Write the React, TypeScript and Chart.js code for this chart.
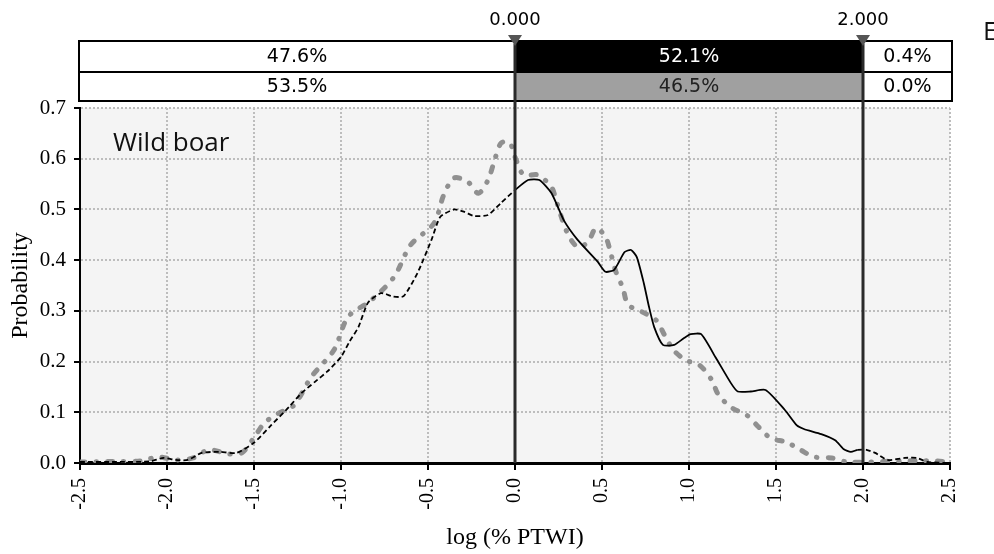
import React, { useEffect, useRef } from "react";
import { Chart, registerables } from "chart.js";

Chart.register(...registerables);

// ---- data ----
const blackX = [
  -2.5, -2.3, -2.1, -2.02, -1.95, -1.88, -1.8, -1.7, -1.6, -1.5, -1.4, -1.3, -1.23, -1.15, -1.08,
  -1.0, -0.95, -0.9, -0.845, -0.77, -0.7, -0.64, -0.56, -0.48, -0.43, -0.35, -0.29, -0.235, -0.155,
  -0.08, 0.0, 0.075, 0.14, 0.21, 0.28, 0.36, 0.475, 0.52, 0.57, 0.63, 0.667, 0.7, 0.74, 0.77, 0.8,
  0.85, 0.915, 0.97, 1.01, 1.07, 1.155, 1.24, 1.28, 1.355, 1.44, 1.55, 1.62, 1.66, 1.76, 1.84, 1.89,
  1.93, 1.97, 2.02, 2.07, 2.14, 2.24, 2.31, 2.37, 2.5,
];
const blackY = [
  0.002, 0.002, 0.003, 0.01, 0.006, 0.006, 0.02, 0.022, 0.02, 0.04, 0.075, 0.11, 0.137, 0.16, 0.18,
  0.209, 0.24, 0.268, 0.316, 0.335, 0.328, 0.329, 0.375, 0.44, 0.485, 0.5, 0.495, 0.487, 0.489,
  0.513, 0.538, 0.558, 0.558, 0.532, 0.479, 0.44, 0.397, 0.377, 0.381, 0.416, 0.42, 0.406, 0.355,
  0.308, 0.268, 0.233, 0.233, 0.246, 0.254, 0.254, 0.207, 0.158, 0.141, 0.141, 0.144, 0.105, 0.074,
  0.067, 0.057, 0.045, 0.027, 0.022, 0.026, 0.026, 0.02, 0.006, 0.01, 0.01, 0.002, 0.0,
];
const grayX = [
  -2.5, -2.3, -2.15, -2.05, -1.95, -1.85, -1.76, -1.65, -1.57, -1.5, -1.44, -1.36, -1.27, -1.17,
  -1.04, -0.96, -0.83, -0.695, -0.6, -0.465, -0.41, -0.35, -0.27, -0.21, -0.155, -0.12, -0.08,
  -0.03, 0.006, 0.05, 0.13, 0.21, 0.235, 0.3, 0.36, 0.42, 0.465, 0.52, 0.55, 0.58, 0.62, 0.65, 0.73,
  0.81, 0.86, 0.91, 0.98, 1.06, 1.13, 1.17, 1.25, 1.33, 1.4, 1.47, 1.56, 1.64, 1.72, 1.82, 1.91,
  2.03, 2.22, 2.41, 2.5,
];
const grayY = [
  0.002, 0.003, 0.004, 0.012, 0.006, 0.01, 0.026, 0.018, 0.02, 0.05, 0.079, 0.098, 0.114, 0.17,
  0.223, 0.288, 0.32, 0.367, 0.43, 0.473, 0.528, 0.562, 0.554, 0.532, 0.558, 0.594, 0.631, 0.631,
  0.598, 0.568, 0.568, 0.544, 0.519, 0.454, 0.426, 0.436, 0.463, 0.446, 0.414, 0.377, 0.345, 0.312,
  0.298, 0.282, 0.252, 0.223, 0.203, 0.193, 0.164, 0.134, 0.108, 0.095, 0.071, 0.049, 0.041, 0.026,
  0.012, 0.01, 0.002, 0.002, 0.004, 0.004, 0.002,
];
const thresholds = [0, 2];
const thresholdLabels = ["0.000", "2.000"];
const row1Labels = ["47.6%", "52.1%", "0.4%"];
const row2Labels = ["53.5%", "46.5%", "0.0%"];
const panelTitle = "Wild boar";
const cornerText = "E";
const xTitle = "log (% PTWI)";
const yTitle = "Probability";

const SERIF = '"Liberation Serif", "Times New Roman", serif';
const SANS = '"DejaVu Sans", Verdana, sans-serif';
const OPEN = '"Open Sans", sans-serif';

const overlay = {
  id: "overlay",
  beforeDraw(chart: any) {
    const { ctx, chartArea: a } = chart;
    ctx.save();
    ctx.fillStyle = "#f4f4f4";
    ctx.fillRect(a.left, a.top, a.right - a.left, a.bottom - a.top);
    ctx.restore();
  },
  afterDraw(chart: any) {
    const { ctx, chartArea: a } = chart;
    const xs = chart.scales.x;
    const px = thresholds.map((t) => xs.getPixelForValue(t));
    const left = a.left - 1;
    const right = a.right + 2;
    const top1 = a.top - 67;
    const mid = a.top - 36;
    const bot = a.top - 7;
    const cols = [left, px[0], px[1], right];

    ctx.save();
    ctx.fillStyle = "#ffffff";
    ctx.fillRect(left, top1, right - left, bot - top1);
    ctx.fillStyle = "#000000";
    ctx.fillRect(px[0], top1, px[1] - px[0], mid - top1);
    ctx.fillStyle = "#a0a0a0";
    ctx.fillRect(px[0], mid, px[1] - px[0], bot - mid);
    ctx.strokeStyle = "#000";
    ctx.lineWidth = 2;
    ctx.strokeRect(left, top1, right - left, bot - top1);
    ctx.beginPath();
    ctx.moveTo(left, mid);
    ctx.lineTo(right, mid);
    ctx.stroke();
    ctx.font = `19px ${SANS}`;
    ctx.textAlign = "center";
    ctx.textBaseline = "middle";
    for (let i = 0; i < 3; i++) {
      const cx = (cols[i] + cols[i + 1]) / 2;
      ctx.fillStyle = i === 1 ? "#ffffff" : "#000000";
      ctx.fillText(row1Labels[i], cx, (top1 + mid) / 2 + 1);
      ctx.fillStyle = i === 1 ? "#222222" : "#000000";
      ctx.fillText(row2Labels[i], cx, (mid + bot) / 2 + 1);
    }
    ctx.strokeStyle = "#2a2a2a";
    ctx.lineWidth = 3;
    px.forEach((p) => {
      ctx.beginPath();
      ctx.moveTo(p, top1 + 3);
      ctx.lineTo(p, a.bottom);
      ctx.stroke();
    });
    px.forEach((p, i) => {
      ctx.fillStyle = "#555555";
      ctx.beginPath();
      ctx.moveTo(p - 7, top1 - 6);
      ctx.lineTo(p + 7, top1 - 6);
      ctx.lineTo(p, top1 + 5);
      ctx.closePath();
      ctx.fill();
      ctx.fillStyle = "#000";
      ctx.font = `18px ${SANS}`;
      ctx.fillText(thresholdLabels[i], p, top1 - 21);
    });
    ctx.fillStyle = "#111";
    ctx.font = `26px ${OPEN}`;
    ctx.textAlign = "left";
    ctx.fillText(panelTitle, a.left + 33, a.top + 36);
    ctx.fillText(cornerText, 983, 33);
    ctx.restore();
  },
};

export default function App() {
  const ref = useRef<HTMLCanvasElement | null>(null);
  useEffect(() => {
    document.body.style.margin = "0";
    const canvas = ref.current;
    if (!canvas) return;
    const chart = new Chart(canvas, {
      type: "line",
      data: {
        datasets: [
          {
            label: "solid",
            data: blackX.map((x, i) => ({ x, y: blackY[i] })),
            borderColor: "#000000",
            borderWidth: 1.8,
            pointRadius: 0,
            tension: 0.2,
            fill: false,
            segment: {
              borderDash: (c: any) => (c.p0.parsed.x < 0 || c.p1.parsed.x > 2 ? [5, 3] : undefined),
            },
          } as any,
          {
            label: "dotted",
            data: grayX.map((x, i) => ({ x, y: grayY[i] })),
            borderColor: "#909090",
            borderWidth: 5,
            borderDash: [5, 11, 0.5, 11],
            borderCapStyle: "round",
            pointRadius: 0,
            tension: 0.3,
            fill: false,
          } as any,
        ],
      },
      options: {
        animation: false,
        responsive: false,
        devicePixelRatio: 1,
        layout: { padding: { left: 0, top: 108, right: 44, bottom: 0 } },
        plugins: { legend: { display: false }, tooltip: { enabled: false } },
        events: [],
        scales: {
          x: {
            type: "linear",
            min: -2.5,
            max: 2.5,
            afterFit: (s: any) => {
              s.height = 91;
            },
            ticks: {
              stepSize: 0.5,
              autoSkip: false,
              minRotation: 90,
              maxRotation: 90,
              padding: 8,
              color: "#000",
              font: { family: SERIF, size: 20 },
              callback: (v: any) => Number(v).toFixed(1),
            },
            grid: {
              color: "#bdbdbd",
              lineWidth: 2,
              drawTicks: true,
              tickLength: 7,
              tickColor: "#000",
              tickWidth: 2,
            },
            border: { display: true, color: "#000", width: 3, dash: [2, 2] },
            title: {
              display: true,
              text: xTitle,
              color: "#000",
              font: { family: SERIF, size: 24 },
              padding: { top: 0, bottom: 2 },
            },
          },
          y: {
            type: "linear",
            min: 0,
            max: 0.7,
            afterFit: (s: any) => {
              s.width = 80;
            },
            ticks: {
              stepSize: 0.1,
              padding: 8,
              color: "#000",
              font: { family: SERIF, size: 21 },
              callback: (v: any) => Number(v).toFixed(1),
            },
            grid: {
              color: "#bdbdbd",
              lineWidth: 2,
              drawTicks: true,
              tickLength: 6,
              tickColor: "#000",
              tickWidth: 2,
            },
            border: { display: true, color: "#000", width: 2, dash: [2, 2] },
            title: {
              display: true,
              text: yTitle,
              color: "#000",
              font: { family: SERIF, size: 24 },
              padding: { top: 6, bottom: 0 },
            },
          },
        },
      },
      plugins: [overlay],
    } as any);
    return () => chart.destroy();
  }, []);
  return (
    <div style={{ position: "fixed", left: 0, top: 0, width: 994, height: 554 }}>
      <canvas ref={ref} width={994} height={554} style={{ width: 994, height: 554, display: "block" }} />
    </div>
  );
}
